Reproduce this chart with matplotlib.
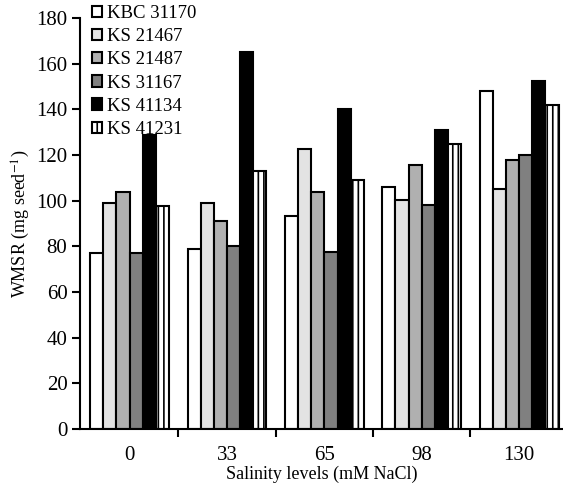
import matplotlib
matplotlib.use("Agg")
import matplotlib.pyplot as plt
import numpy as np

plt.rcParams['font.family'] = ['Liberation Serif', 'DejaVu Serif']
plt.rcParams['mathtext.fontset'] = 'stix'
plt.rcParams['hatch.linewidth'] = 1.2

salinity = ['0', '33', '65', '98', '130']
genotypes = ['KBC 31170', 'KS 21467', 'KS 21487', 'KS 31167', 'KS 41134', 'KS 41231']

kbc_31170 = [77, 79, 93.5, 106, 148]
ks_21467 = [99, 99, 122.5, 100.5, 105]
ks_21487 = [104, 91, 104, 115.5, 118]
ks_31167 = [77, 80, 77.5, 98, 120]
ks_41134 = [129, 165, 140, 131, 152.5]
ks_41231 = [97.5, 113, 109, 125, 142]

series = [kbc_31170, ks_21467, ks_21487, ks_31167, ks_41134, ks_41231]
colors = ['white', '#e3e3e3', '#b0b0b0', '#808080', 'black', 'white']
hatches = [None, None, None, None, None, '|||']

fig = plt.figure(figsize=(5.63, 4.90), dpi=100)
ax = fig.add_axes([0.142, 0.1245, 0.858, 0.8385])

x = np.arange(len(salinity))
w = 0.135
for i, vals in enumerate(series):
    ax.bar(x + (i - 2.5) * w, vals, w, color=colors[i], edgecolor='black',
           linewidth=1.5, hatch=hatches[i], label=genotypes[i])

ax.set_xlim(-0.51, 4.45)
ax.set_ylim(0, 180)
ax.set_yticks(np.arange(0, 181, 20))
ax.set_xticks(x[:-1] + 0.5)
ax.set_xticklabels([])
ax.set_xticks(x, minor=True)
ax.set_xticklabels(salinity, minor=True)
ax.tick_params(axis='x', which='minor', length=0, pad=12, labelsize=15)
ax.tick_params(axis='x', which='major', length=6, width=1.5)
ax.tick_params(axis='y', length=6, width=1.5, labelsize=15, pad=3)

for s in ['top', 'right']:
    ax.spines[s].set_visible(False)
for s in ['left', 'bottom']:
    ax.spines[s].set_linewidth(1.5)

ax.set_ylabel(r'WMSR (mg seed$^{-1}$)', fontsize=13)
ax.yaxis.set_label_coords(-0.099, 0.5)
ax.set_xlabel('Salinity levels (mM NaCl)', fontsize=13)
ax.xaxis.set_label_coords(0.5, -0.09)

fig.legend(loc='upper left', bbox_to_anchor=(92 / 563, 1 - 5 / 490), frameon=False,
           fontsize=13.5, handlelength=0.55, handleheight=0.55, handletextpad=0.25,
           labelspacing=0.33, borderpad=0, borderaxespad=0)

fig.savefig('out.png', dpi=100)
